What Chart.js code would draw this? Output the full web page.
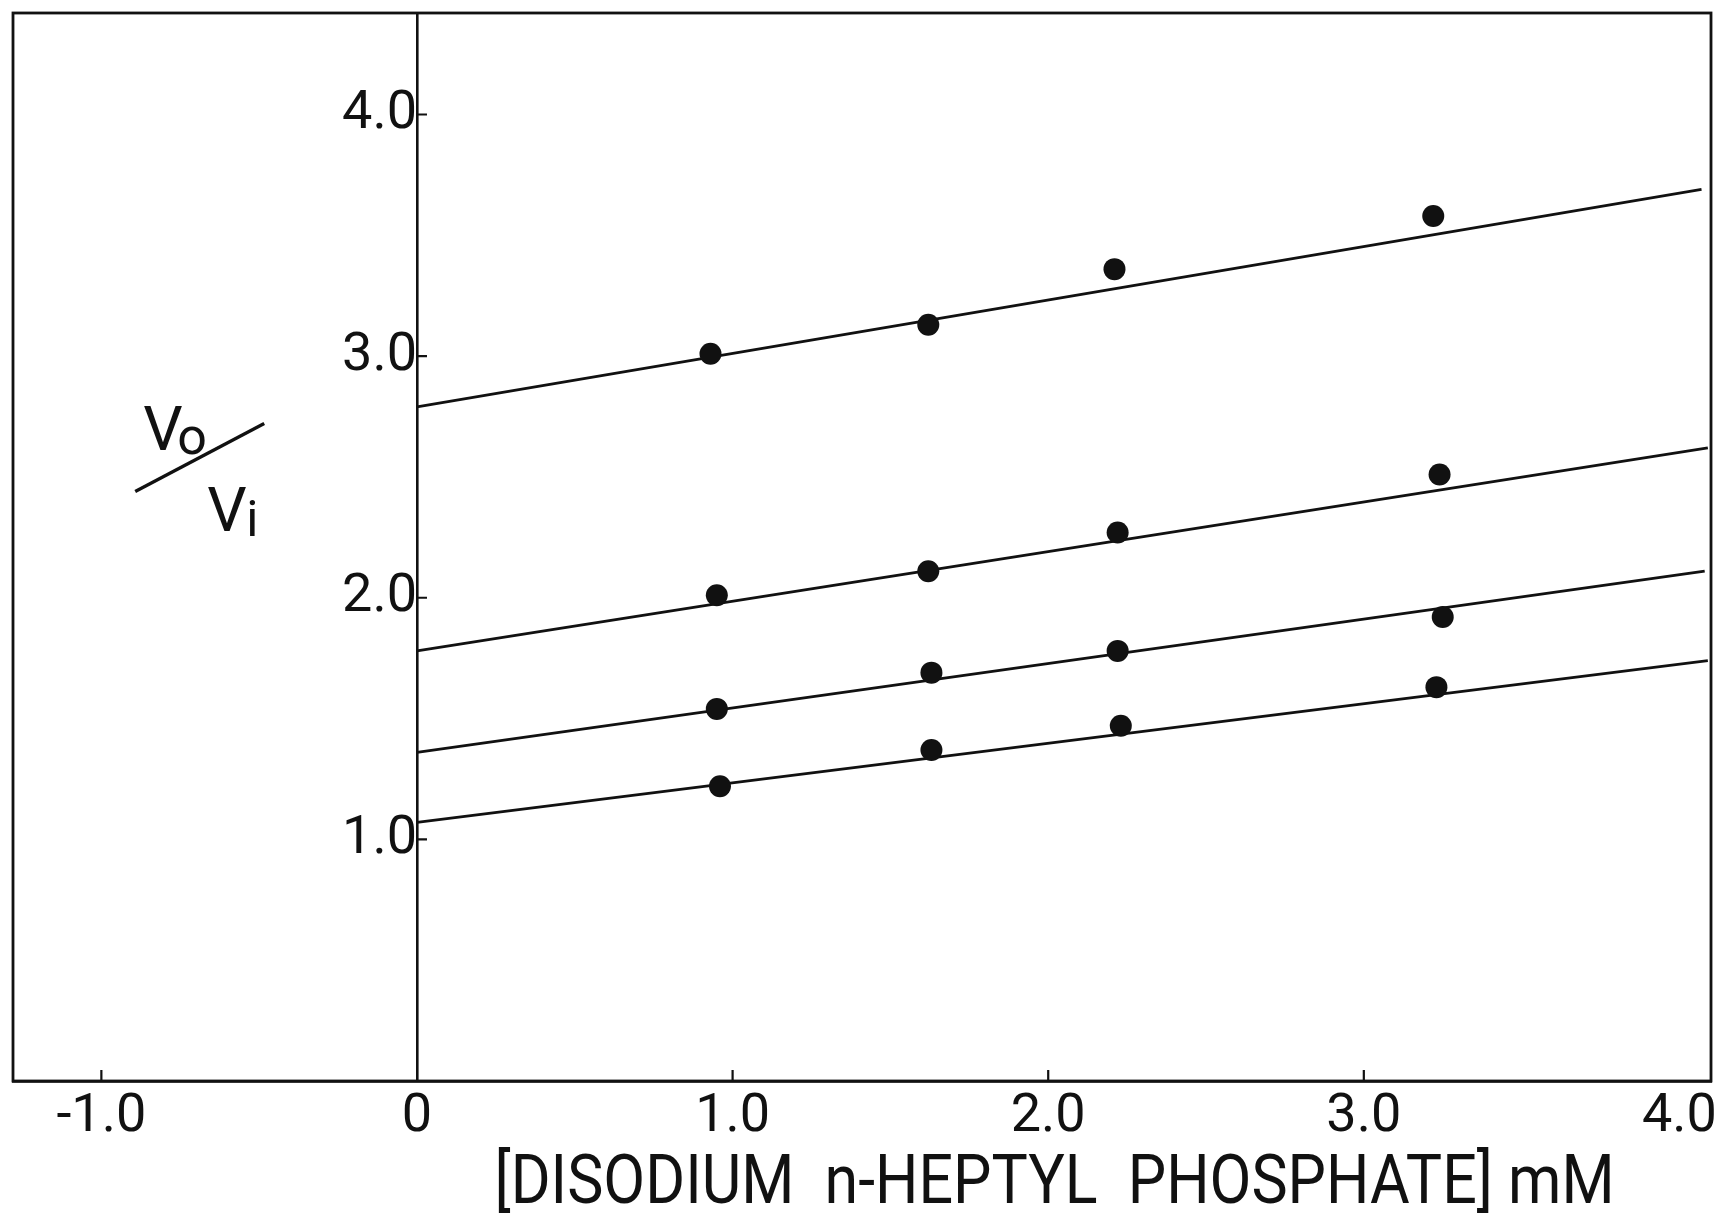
<!DOCTYPE html>
<html>
<head>
<meta charset="utf-8">
<script src="https://cdn.jsdelivr.net/npm/chart.js@4.4.1/dist/chart.umd.min.js"></script>
<style>
  html, body { margin: 0; padding: 0; background: #fff; }
  #wrap { width: 1722px; height: 1230px; }
</style>
</head>
<body>
<div id="wrap"><canvas id="chart" width="1722" height="1230"></canvas></div>
<script>
// axis ticks
const xTickValues = [-1, 0, 1, 2, 3, 4];
const xTickLabels = ['-1.0', '0', '1.0', '2.0', '3.0', '4.0'];
const xTickMarks = [-1, 1, 2, 3];
const yTickValues = [1, 2, 3, 4];
const yTickLabels = ['1.0', '2.0', '3.0', '4.0'];

// measured points: [heptyl phosphate] mM vs Vo/Vi, one set per curve (top to bottom)
const conc1 = [0.93, 1.62, 2.21, 3.22];
const ratio1 = [3.01, 3.13, 3.36, 3.58];
const conc2 = [0.95, 1.62, 2.22, 3.24];
const ratio2 = [2.01, 2.11, 2.27, 2.51];
const conc3 = [0.95, 1.63, 2.22, 3.25];
const ratio3 = [1.54, 1.69, 1.78, 1.92];
const conc4 = [0.96, 1.63, 2.23, 3.23];
const ratio4 = [1.22, 1.37, 1.47, 1.63];

// fitted lines: value at x = 0 and at the right end
const lineStartX = [0, 0, 0, 0];
const lineEndX = [4.07, 4.09, 4.08, 4.09];
const lineStartY = [2.79, 1.78, 1.36, 1.07];
const lineEndY = [3.69, 2.62, 2.11, 1.74];

const INK = '#111';
const FONT = 'Roboto, "Liberation Sans", sans-serif';

function pts(xs, ys) {
    return xs.map((x, i) => ({ x: x, y: ys[i] }));
}

const pointSets = [[conc1, ratio1], [conc2, ratio2], [conc3, ratio3], [conc4, ratio4]];
const datasets = [];
pointSets.forEach(([xs, ys]) => {
    datasets.push({
        data: pts(xs, ys), showLine: false,
        pointRadius: 11, pointBackgroundColor: INK, pointBorderColor: INK, pointBorderWidth: 0
    });
});
lineStartY.forEach((y0, i) => {
    datasets.push({
        data: pts([lineStartX[i], lineEndX[i]], [y0, lineEndY[i]]), showLine: true,
        borderColor: INK, borderWidth: 2.8, pointRadius: 0, fill: false
    });
});

const paper = {
    id: 'paper',
    afterDraw(chart) {
        const { ctx, chartArea: a, scales: { x, y } } = chart;
        ctx.save();
        ctx.strokeStyle = INK;
        ctx.fillStyle = INK;
        ctx.lineWidth = 2.8;
        ctx.strokeRect(a.left, a.top, a.right - a.left, a.bottom - a.top);

        // inward tick marks
        ctx.lineWidth = 2.2;
        ctx.beginPath();
        xTickMarks.forEach(v => {
            const px = x.getPixelForValue(v);
            ctx.moveTo(px, a.bottom);
            ctx.lineTo(px, a.bottom - 11);
        });
        const x0 = x.getPixelForValue(0);
        yTickValues.forEach(v => {
            const py = y.getPixelForValue(v);
            ctx.moveTo(x0, py);
            ctx.lineTo(x0 + 10, py);
        });
        ctx.stroke();

        // y label Vo / Vi
        const cx = x.getPixelForValue(-0.69);
        const cy = y.getPixelForValue(2.58);
        ctx.textBaseline = 'alphabetic';
        ctx.textAlign = 'left';
        ctx.font = '400 62px ' + FONT;
        ctx.fillText('V', cx - 56, cy - 8);
        ctx.font = '400 52px ' + FONT;
        ctx.fillText('o', cx - 22, cy - 4);
        ctx.font = '400 62px ' + FONT;
        ctx.fillText('V', cx + 8, cy + 73);
        ctx.font = '400 50px ' + FONT;
        ctx.fillText('i', cx + 47, cy + 78);
        ctx.lineWidth = 3.4;
        ctx.beginPath();
        ctx.moveTo(cx - 64, cy + 34);
        ctx.lineTo(cx + 65, cy - 34);
        ctx.stroke();

        // x axis title
        ctx.font = '400 68px ' + FONT;
        ctx.textAlign = 'center';
        ctx.fillText('[DISODIUM  n-HEPTYL  PHOSPHATE] mM', x.getPixelForValue(2.02), a.bottom + 122, 1120);
        ctx.restore();
    }
};

new Chart(document.getElementById('chart'), {
    type: 'scatter',
    data: { datasets: datasets },
    options: {
        responsive: false,
        animation: false,
        events: [],
        layout: { padding: { left: 13, top: 13, right: 2, bottom: 0 } },
        plugins: { legend: { display: false }, tooltip: { enabled: false } },
        scales: {
            x: {
                type: 'linear', position: 'bottom', min: -1.28, max: 4.10,
                afterBuildTicks: s => { s.ticks = xTickValues.map(v => ({ value: v })); },
                afterFit: s => { s.height = 149; s.paddingLeft = 0; s.paddingRight = 0; },
                grid: { display: false, drawTicks: false },
                border: { display: true, color: INK, width: 2.8 },
                ticks: {
                    color: INK, padding: 4, maxRotation: 0, autoSkip: false,
                    font: { family: FONT, size: 54, weight: '400' },
                    callback: (v) => xTickLabels[xTickValues.indexOf(v)]
                }
            },
            y: {
                type: 'linear', position: { x: 0 }, min: 0, max: 4.42,
                afterBuildTicks: s => { s.ticks = yTickValues.map(v => ({ value: v })); },
                afterFit: s => { s.paddingTop = 0; s.paddingBottom = 0; },
                grid: { display: false, drawTicks: false },
                border: { display: true, color: INK, width: 2.6 },
                ticks: {
                    color: INK, padding: 14, autoSkip: false,
                    font: { family: FONT, size: 54, weight: '400' },
                    callback: (v) => yTickLabels[yTickValues.indexOf(v)]
                }
            }
        }
    },
    plugins: [paper]
});
</script>
</body>
</html>
